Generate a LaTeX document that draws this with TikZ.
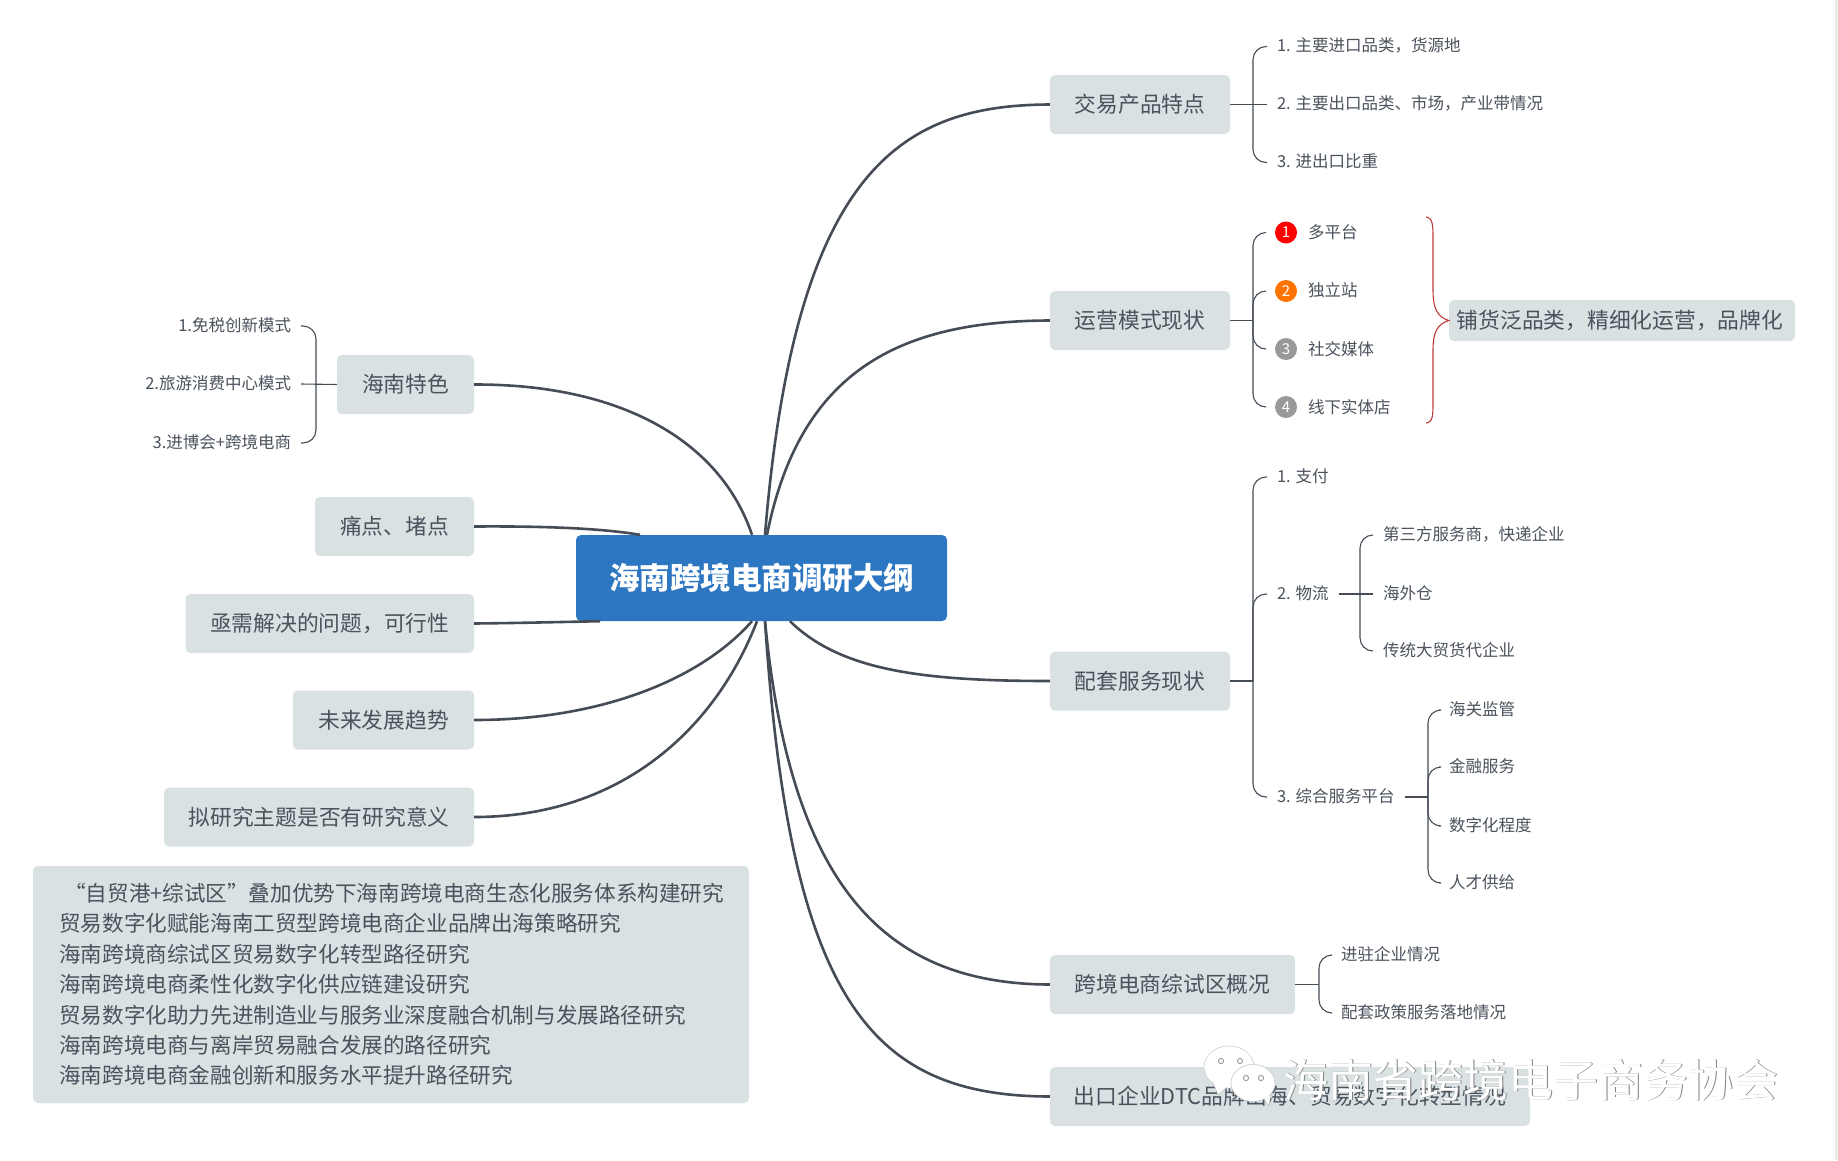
\documentclass[tikz,border=0pt]{standalone}
\usepackage{fontspec}
\setmainfont{Noto Sans CJK SC}
\definecolor{boxfill}{HTML}{D9E1E3}
\definecolor{ink}{HTML}{4A525C}
\definecolor{limb}{HTML}{454C56}
\definecolor{blue}{HTML}{2D76C2}
\definecolor{brace}{HTML}{C43A3A}
\tikzset{
  mainbox/.style={fill=blue,text=white,rounded corners=5pt,font=\fontsize{30.5}{32}\selectfont\bfseries,minimum width=371pt,minimum height=86pt,inner sep=0pt},
  topic/.style={fill=boxfill,text=ink,rounded corners=5pt,font=\fontsize{21.75}{24}\selectfont,minimum height=59pt,inner sep=0pt},
  leaf/.style={text=ink,font=\fontsize{16.5}{18}\selectfont,inner ysep=0pt,inner xsep=0pt,outer xsep=10pt,outer ysep=0pt,text height=14.5pt,text depth=4pt},
  limbline/.style={limb,line width=2.6pt},
  twig/.style={limb,line width=1.1pt},
  curl/.style={limb,line width=1.1pt,rounded corners=13pt},
  badge/.style={circle,minimum size=22pt,inner sep=0pt,outer sep=9pt,text=white,font=\fontsize{15}{16}\selectfont},
  mark text/.style={anchor=west,font=\fontsize{45}{48}\selectfont,inner sep=0pt},
  bubble/.style={fill=white,draw=black!22,line width=0.6pt},
  eye/.style={fill=white,draw=black!45,line width=0.8pt},
}
% #1 parent, #2 child, #3 spine x
\newcommand{\curlto}[3]{\draw[curl] (#1.east -| #3,0) |- (#2.west);}
\newcommand{\curlfrom}[3]{\draw[curl] (#1.west -| #3,0) |- (#2.east);}
\begin{document}
\begin{tikzpicture}[x=1pt,y=-1pt]
\useasboundingbox (0,0) rectangle (1838,1160);
\fill[white] (0,0) rectangle (1838,1160);
\fill[black!8] (1835,0) rectangle (1838,1160);

% nodes
\node[mainbox] (c) at (761.5,578) {海南跨境电商调研大纲};
\node[topic,minimum width=180pt] (r1) at (1140,104.5) {交易产品特点};
\node[topic,minimum width=180pt] (r2) at (1140,320.5) {运营模式现状};
\node[topic,minimum width=180pt] (r3) at (1140,681) {配套服务现状};
\node[topic,minimum width=245pt] (r4) at (1172.5,984.5) {跨境电商综试区概况};
\node[topic,minimum width=480pt] (r5) at (1290,1096.5) {出口企业DTC品牌出海、贸易数字化转型情况};
\node[topic,minimum width=346pt,minimum height=41pt] (sum) at (1622,320.5) {铺货泛品类，精细化运营，品牌化\hspace*{4pt}};
\node[topic,minimum width=137pt] (l1) at (405.5,384.5) {海南特色};
\node[topic,minimum width=159pt] (l2) at (394.5,526.5) {痛点、堵点};
\node[topic,minimum width=288.5pt] (l3) at (329.75,623.5) {亟需解决的问题，可行性};
\node[topic,minimum width=181pt] (l4) at (383.5,720) {未来发展趋势};
\node[topic,minimum width=310pt] (l5) at (319,817) {拟研究主题是否有研究意义};
\node[fill=boxfill,rounded corners=5pt,minimum width=716pt,minimum height=237pt,inner sep=0pt] (big) at (391,984.5) {};
\begin{scope}[every node/.style={anchor=west,text=ink,font=\fontsize{21.6}{24}\selectfont,inner sep=0pt}]
\node (b1) at (64,893) {“自贸港+综试区”叠加优势下海南跨境电商生态化服务体系构建研究};
\node (b2) at (59,923.5) {贸易数字化赋能海南工贸型跨境电商企业品牌出海策略研究};
\node (b3) at (59,954) {海南跨境商综试区贸易数字化转型路径研究};
\node (b4) at (59,984.5) {海南跨境电商柔性化数字化供应链建设研究};
\node (b5) at (59,1015) {贸易数字化助力先进制造业与服务业深度融合机制与发展路径研究};
\node (b6) at (59,1045) {海南跨境电商与离岸贸易融合发展的路径研究};
\node (b7) at (59,1075) {海南跨境电商金融创新和服务水平提升路径研究};
\end{scope}

% main limbs, ending on the edge of the central box
\begin{scope}[limbline]
\draw (r1.west) .. controls (900,105) and (795,170) .. (c.north -| 765,0);
\draw (r2.west) .. controls (900,321) and (800,370) .. (c.north -| 767,0);
\draw (r3.west) .. controls (920,681) and (840,670) .. (c.south -| 790,0);
\draw (r4.west) .. controls (880,984) and (790,880) .. (c.south -| 765,0);
\draw (r5.west) .. controls (870,1096) and (790,1000) .. (c.south -| 765,0);
\draw (l1.east) .. controls (620,384) and (720,440) .. (c.north -| 752,0);
\draw (l2.east) .. controls (540,526) and (600,528) .. (c.north -| 640,0);
\draw (l3.east) .. controls (520,623) and (560,622) .. (c.south -| 600,0);
\draw (l4.east) .. controls (600,720) and (700,680) .. (c.south -| 752,0);
\draw (l5.east) .. controls (620,817) and (715,730) .. (c.south -| 757,0);
\end{scope}

% right leaves
\begin{scope}[every node/.style={leaf,anchor=west}]
\node (a1) at (1267,46.5) {1. 主要进口品类，货源地};
\node (a2) at (1267,104.5) {2. 主要出口品类、市场，产业带情况};
\node (a3) at (1267,162.5) {3. 进出口比重};
\node (b1x) at (1298,233) {多平台};
\node (b2x) at (1298,291.5) {独立站};
\node (b3x) at (1298,350) {社交媒体};
\node (b4x) at (1298,408) {线下实体店};
\node (p1) at (1267,477) {1. 支付};
\node (p2) at (1267,594) {2. 物流};
\node (p3) at (1267,797) {3. 综合服务平台};
\node (q1) at (1373,535) {第三方服务商，快递企业};
\node (q2) at (1373,594) {海外仓};
\node (q3) at (1373,651) {传统大贸货代企业};
\node (s1) at (1439,710) {海关监管};
\node (s2) at (1439,767) {金融服务};
\node (s3) at (1439,826) {数字化程度};
\node (s4) at (1439,883) {人才供给};
\node (k1) at (1331,955) {进驻企业情况};
\node (k2) at (1331,1013) {配套政策服务落地情况};
\end{scope}
\begin{scope}[every node/.style={leaf,anchor=east}]
\node (h1) at (301,326) {1.免税创新模式};
\node (h2) at (301,384) {2.旅游消费中心模式};
\node (h3) at (301,443) {3.进博会+跨境电商};
\end{scope}
\node[badge,fill=red] (i1) at (1286,232.5) {1};
\node[badge,fill=orange!90!red] (i2) at (1286,291) {2};
\node[badge,fill=black!40] (i3) at (1286,349) {3};
\node[badge,fill=black!40] (i4) at (1286,407) {4};

% curly connectors
\draw[twig] (r1.east) -- (a2.west);
\curlto{r1}{a1}{1253}
\curlto{r1}{a3}{1253}
\draw[twig] (r2.east) -- (r2.east -| 1253,0);
\curlto{r2}{i1}{1253}
\curlto{r2}{i2}{1253}
\curlto{r2}{i3}{1253}
\curlto{r2}{i4}{1253}
\draw[twig] (r3.east) -- (r3.east -| 1253,0);
\curlto{r3}{p1}{1253}
\curlto{r3}{p2}{1253}
\curlto{r3}{p3}{1253}
\draw[twig] (p2.east) -- (q2.west);
\curlto{p2}{q1}{1360}
\curlto{p2}{q3}{1360}
\draw[twig] (p3.east) -- (p3.east -| 1428,0);
\curlto{p3}{s1}{1428}
\curlto{p3}{s2}{1428}
\curlto{p3}{s3}{1428}
\curlto{p3}{s4}{1428}
\draw[twig] (r4.east) -- (r4.east -| 1319,0);
\curlto{r4}{k1}{1319}
\curlto{r4}{k2}{1319}
\draw[twig] (l1.west) -- (h2.east);
\curlfrom{l1}{h1}{316}
\curlfrom{l1}{h3}{316}

% red brace
\coordinate (bt) at (1426,217);
\coordinate (bb) at (1426,423);
\draw[brace,line width=1.1pt] (bt) .. controls (1433,218) and (1433,225) .. (1433,240) -- (1433,290)
  .. controls (1433,310) and (1438,317) .. (sum.west) .. controls (1438,324) and (1433,331) .. (1433,350) -- (1433,400)
  .. controls (1433,416) and (1433,422) .. (bb);

% watermark
\node[mark text,text=black!50] (wms) at (1284.6,1080.6) {海南省跨境电子商务协会};
\node[mark text,text=white] (wm) at (1283.5,1080) {海南省跨境电子商务协会};
\filldraw[bubble] (1229,1067) ellipse (25 and 21);
\filldraw[bubble] (1212,1080) -- (1218,1095) -- (1228,1086) -- cycle;
\fill[white] (1229,1067) ellipse (24.5 and 20.5);
\filldraw[bubble] (1262,1096) -- (1269,1106) -- (1271,1092) -- cycle;
\filldraw[bubble] (1253,1083) ellipse (22 and 18.5);
\fill[white] (1262,1094) -- (1268.5,1103) -- (1270,1090) -- cycle;
\foreach \ex/\ey in {1221/1061,1240/1061,1246/1078,1261/1078}{
  \filldraw[eye] (\ex,\ey) circle (2.6);
}
\end{tikzpicture}
\end{document}
